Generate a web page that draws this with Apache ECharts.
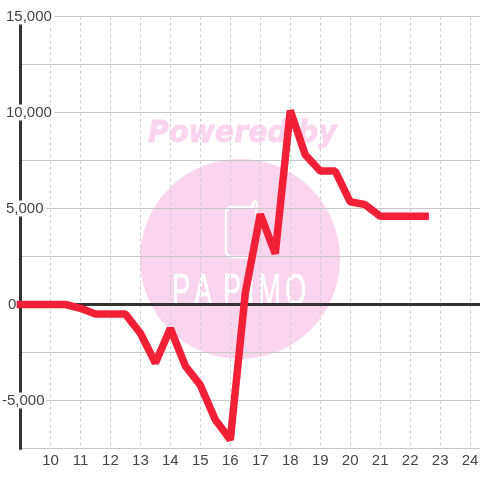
<!DOCTYPE html>
<html><head><meta charset="utf-8">
<style>html,body{margin:0;padding:0;background:#fff}#c{width:480px;height:480px}</style>
<script src="https://cdn.jsdelivr.net/npm/echarts@6/dist/echarts.min.js"></script>
</head><body><div id="c"></div>
<script>
const hours = [9,9.5,10,10.5,11,11.5,12,12.5,13,13.5,14,14.5,15,15.5,16,16.5,17,17.5,18,18.5,19,19.5,20,20.5,21,21.5,22,22.5];
const values = [0,0,0,0,-200,-500,-500,-500,-1500,-3050,-1250,-3200,-4200,-6000,-7050,600,4700,2650,10100,7800,6950,6950,5350,5200,4600,4600,4600,4600];
const yTickLabels = {15000:'15,000',10000:'10,000',5000:'5,000',0:'0','-5000':'-5,000'};
const yLabelStyleKey = {15000:'a',10000:'a',5000:'a',0:'n','-5000':'m'};
const logoLetters = [['P',172],['A',194],['P',223],['I',247],['M',258],['O',285]];
const pink = '#fbd5ee';
const lbl = {fontFamily:'Liberation Sans',fontSize:15,color:'#444'};
const chart = echarts.init(document.getElementById('c'),null,{renderer:'canvas'});
chart.setOption({
  animation:false,
  backgroundColor:'#fff',
  grid:{left:20.5,top:16.5,width:459.5,height:432,containLabel:false,outerBoundsMode:'none'},
  graphic:[
    {type:'circle',z:-1,shape:{cx:240,cy:259,r:100},style:{fill:pink}},
    {type:'text',z:-1,x:148,y:119,scaleX:0.95,style:{x:0,y:0,text:'Powered by',fill:pink,stroke:pink,lineWidth:0.8,font:'italic bold 30px "DejaVu Sans"'}},
    {type:'polyline',z:-1,shape:{points:[[250,257],[230,257],[226,253],[226,211],[230,207],[253,207],[253,203],[255,201],[257,203],[256,214]]},style:{stroke:'#fff',lineWidth:2.4,fill:null}}
  ].concat(logoLetters.map(([t,x])=>({type:'text',z:-1,x:x,y:271,scaleX:0.62,style:{x:0,y:0,text:t,fill:'#fff',stroke:'#fff',lineWidth:0.6,font:'44px "Liberation Sans"'}}))),
  xAxis:[
    {type:'value',min:9,max:24.33,interval:1,position:'bottom',
     axisLine:{onZero:false,show:false},axisTick:{show:false},
     axisLabel:{show:true,showMinLabel:false,showMaxLabel:false,margin:5,fontFamily:'Liberation Sans',fontSize:15,color:'#444',
       formatter:v=>Number.isInteger(v)?String(v):''},
     splitLine:{show:true,lineStyle:{color:'#cccccc',width:1,type:[3,3]}}},
    {type:'value',min:9,max:24.33,interval:1,position:'bottom',
     axisLine:{show:true,onZero:true,lineStyle:{color:'#333',width:3}},axisTick:{show:false},axisLabel:{show:false},splitLine:{show:false}}
  ],
  yAxis:{type:'value',min:-7500,max:15000,interval:2500,
    axisLine:{show:true,onZero:false,lineStyle:{color:'#333',width:3}},axisTick:{show:false},
    axisLabel:{inside:true,margin:-18.5,align:'left',z:5,
      formatter:v=>{const t=yTickLabels[v];if(t===undefined)return '';return '{'+yLabelStyleKey[v]+'|'+t+'}';},
      rich:{a:Object.assign({},lbl,{backgroundColor:'#fff',padding:[0,2,0,4],height:16,lineHeight:16}),
            m:Object.assign({},lbl,{backgroundColor:'#fff',padding:[0,2,0,0],height:16,lineHeight:16}),
            n:Object.assign({},lbl,{padding:[0,0,0,6]})}},
    splitLine:{show:true,lineStyle:{color:'#c8c8c8',width:1}}},
  series:[{type:'line',xAxisIndex:0,data:hours.map((h,i)=>[h,values[i]]),symbol:'none',clip:false,z:4,
    lineStyle:{color:'#f22037',width:7.5,cap:'square',join:'bevel'}}]
});
</script></body></html>
